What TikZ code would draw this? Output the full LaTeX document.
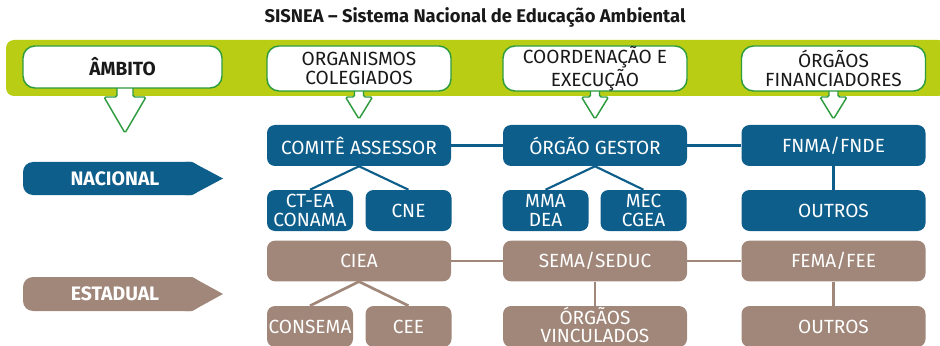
\documentclass[tikz,border=0pt]{standalone}
\usepackage{fontspec}
\setmainfont{Fira Sans}
\definecolor{bandg}{HTML}{B8CD13}
\definecolor{dkg}{HTML}{2E9B3E}
\definecolor{blu}{HTML}{0E5E8B}
\definecolor{brn}{HTML}{A08779}
\tikzset{
  base/.style={align=center, inner sep=0pt, font=\fontsize{14.3}{14.4}\selectfont},
  hdr/.style={base, draw=dkg, line width=1.1pt, fill=white, rounded corners=9pt, text=black!90},
  bbox/.style={base, fill=blu, text=white, rounded corners=6pt, minimum height=30.75pt},
  rbox/.style={base, fill=brn, text=white, rounded corners=6pt, minimum height=30.5pt},
  wide/.style={minimum width=138pt},
  narrow/.style={minimum width=64.5pt},
  bline/.style={draw=blu, line width=1.6pt},
  rline/.style={draw=brn, line width=2pt},
  harrow/.style={fill=white, draw=dkg, line width=1.1pt, rounded corners=1.2pt},
  lvl/.style={font=\fontsize{14.6}{15}\selectfont\bfseries, text=white, inner sep=0pt}
}
\begin{document}
\begin{tikzpicture}[x=0.75pt, y=-0.75pt]
\useasboundingbox (0,0) rectangle (940,346);
\clip (0,0) rectangle (940,346);
% title
\node[font=\fontsize{13.8}{15}\selectfont\bfseries, text=black!90] (title) at (475,17) {SISNEA – Sistema Nacional de Educação Ambiental};
% band
\fill[bandg, rounded corners=6pt] (6,40) rectangle (946,96);
% arrows
\draw[harrow] (117,85) -- (117,97) -- (104,97) -- (125,133) -- (146,97) -- (133,97) -- (133,85);
\foreach \cx in {359,595,833.5}{
  \draw[harrow] (\cx-4.5,88) -- (\cx-4.5,97) -- (\cx-13.5,97) -- (\cx,119) -- (\cx+13.5,97) -- (\cx+4.5,97) -- (\cx+4.5,88);
}
% header boxes
\node[hdr, minimum width=149.25pt, minimum height=31.5pt] (amb) at (122.5,67) {\bfseries ÂMBITO};
\node[hdr, wide, minimum height=33.75pt] (org) at (359,68.5) {ORGANISMOS\\COLEGIADOS};
\node[hdr, wide, minimum height=33.75pt] (coo) at (595,68.5) {COORDENAÇÃO E\\EXECUÇÃO};
\node[hdr, wide, minimum height=33.75pt] (fin) at (833.5,68.5) {ÓRGÃOS\\FINANCIADORES};
% level labels
\fill[blu, rounded corners=7.5pt] (23,162) rectangle (200,195);
\fill[blu] (185,162) -- (192,162) -- (223,178.5) -- (192,195) -- (185,195) -- cycle;
\node[lvl] (nac) at (115,178.5) {NACIONAL};
\fill[brn, rounded corners=7.5pt] (23,277) rectangle (200,311);
\fill[brn] (185,277) -- (192,277) -- (223,294) -- (192,311) -- (185,311) -- cycle;
\node[lvl] (est) at (115,294) {ESTADUAL};
% national boxes
\node[bbox, wide] (com) at (359,145.5) {COMITÊ ASSESSOR};
\node[bbox, wide] (ges) at (595,145.5) {ÓRGÃO GESTOR};
\node[bbox, wide] (fnma) at (833.5,145.5) {FNMA/FNDE};
\node[bbox, narrow] (ctea) at (310,210.5) {CT-EA\\CONAMA};
\node[bbox, narrow] (cne) at (408.5,210.5) {CNE};
\node[bbox, narrow] (mma) at (545.5,210.5) {MMA\\DEA};
\node[bbox, narrow] (mec) at (643.5,210.5) {MEC\\CGEA};
\node[bbox, wide] (out1) at (833.5,210.5) {OUTROS};
% state boxes
\node[rbox, wide] (ciea) at (359,261) {CIEA};
\node[rbox, wide] (sema) at (595,261) {SEMA/SEDUC};
\node[rbox, wide] (fema) at (833.5,261) {FEMA/FEE};
\node[rbox, narrow, minimum height=30.75pt] (cons) at (310,326.5) {CONSEMA};
\node[rbox, narrow, minimum height=30.75pt] (cee) at (408.5,326.5) {CEE};
\node[rbox, wide, minimum height=30.75pt] (vinc) at (595,326.5) {};
\node[base, text=white, font=\fontsize{14.3}{13.6}\selectfont] (vinctxt) at (595,324.5) {ÓRGÃOS\\VINCULADOS};
\node[rbox, wide, minimum height=30.75pt] (out2) at (833.5,326.5) {OUTROS};
% connectors
\draw[bline] (com) -- (ges);
\draw[bline] (ges) -- (fnma);
\draw[bline] (fnma) -- (out1);
\draw[bline] (com.south) -- (ctea.north);
\draw[bline] (com.south) -- (cne.north);
\draw[bline] (ges.south) -- (mma.north);
\draw[bline] (ges.south) -- (mec.north);
\draw[rline] (ciea) -- (sema);
\draw[rline] (sema) -- (fema);
\draw[rline] (ciea.south) -- (cons.north);
\draw[rline] (ciea.south) -- (cee.north);
\draw[rline] (sema) -- (vinc);
\draw[rline] (fema) -- (out2);
\end{tikzpicture}
\end{document}
